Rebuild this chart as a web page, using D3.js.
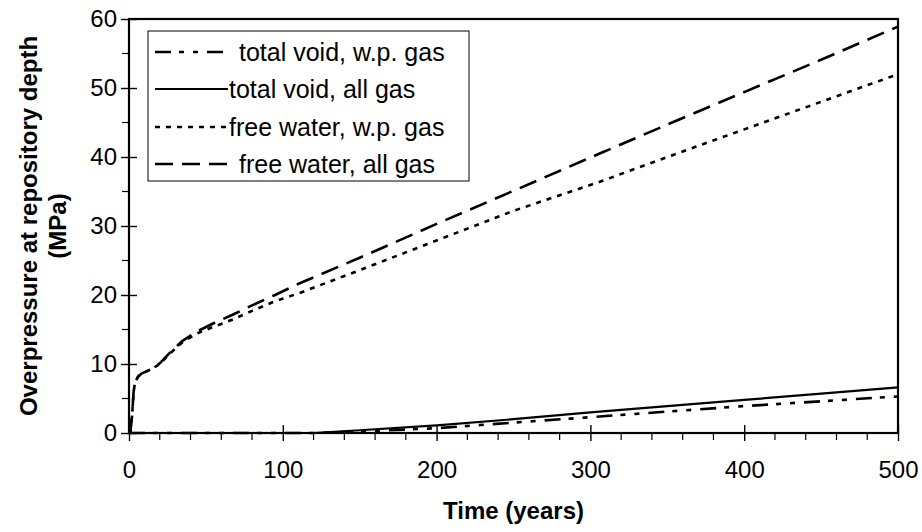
<!DOCTYPE html>
<html>
<head>
<meta charset="utf-8">
<script src="https://cdn.jsdelivr.net/npm/d3@7"></script>
<style>
  html, body { margin: 0; padding: 0; background: #fff; }
  svg { display: block; font-family: "Liberation Sans", Arial, sans-serif; }
</style>
</head>
<body>
<svg id="chart" width="922" height="532"></svg>
<script>
// Time axis (years) for the free-water cases
const fwTime = [0, 1, 2, 3, 4, 6, 8, 11, 15, 20, 26, 35, 45, 55, 67, 80, 95, 111, 150, 200, 250, 306, 350, 400, 450, 500];
// Overpressure (MPa), free water, all gas
const fwAllGas = [0, 0.3, 2.5, 6.0, 7.4, 8.2, 8.6, 8.9, 9.3, 10.1, 11.5, 13.4, 14.8, 15.9, 17.1, 18.5, 20.0, 21.7, 25.4, 30.3, 35.1, 40.5, 44.7, 49.4, 54.1, 58.9];
// Overpressure (MPa), free water, w.p. gas
const fwWpGas = [0, 0.3, 2.5, 6.0, 7.4, 8.2, 8.6, 8.9, 9.3, 10.0, 11.4, 13.2, 14.5, 15.4, 16.4, 17.7, 19.1, 20.3, 23.6, 27.9, 32.2, 36.4, 40.0, 44.0, 48.0, 52.0];

// Time axis (years) for the total-void cases
const tvTime = [0, 120, 150, 200, 250, 300, 350, 400, 450, 500];
// Overpressure (MPa), total void, all gas
const tvAllGas = [0, 0, 0.4, 1.1, 2.0, 3.0, 3.9, 4.8, 5.7, 6.6];
// Overpressure (MPa), total void, w.p. gas
const tvWpGas = [0, 0, 0.2, 0.7, 1.5, 2.3, 3.1, 3.9, 4.6, 5.3];

const xTicks = [0, 100, 200, 300, 400, 500];
const yTicks = [0, 10, 20, 30, 40, 50, 60];
const legendLabels = ["total void, w.p. gas", "total void, all gas", "free water, w.p. gas", "free water, all gas"];

const svg = d3.select("#chart");
const plotLeft = 129, plotRight = 898, plotTop = 19, plotBottom = 433;

const x = d3.scaleLinear().domain([0, 500]).range([plotLeft, plotRight]);
const y = d3.scaleLinear().domain([0, 60]).range([plotBottom, plotTop]);

// line styles: [dasharray, width]
const styles = {
  tvWp: ["16,8,5,9,5,9", 2.6],
  tvAll: [null, 2.2],
  fwWp: ["5,6", 2.6],
  fwAll: ["18,9", 2.6]
};

const line = d3.line().x(d => x(d[0])).y(d => y(d[1]));

function drawSeries(times, values, st) {
  svg.append("path")
    .datum(times.map((t, i) => [t, values[i]]))
    .attr("d", line)
    .attr("fill", "none")
    .attr("stroke", "#000")
    .attr("stroke-width", st[1])
    .attr("stroke-dasharray", st[0])
    .attr("stroke-linejoin", "round");
}

drawSeries(fwTime, fwWpGas, styles.fwWp);
drawSeries(fwTime, fwAllGas, styles.fwAll);
drawSeries(tvTime, tvWpGas, styles.tvWp);
drawSeries(tvTime, tvAllGas, styles.tvAll);

// minor ticks
const minorX = d3.range(0, 501, 20).filter(v => v % 100 !== 0);
const minorY = d3.range(0, 61, 5).filter(v => v % 10 !== 0);

svg.append("g").selectAll("line").data(minorX).join("line")
  .attr("x1", d => x(d)).attr("x2", d => x(d))
  .attr("y1", plotBottom).attr("y2", plotBottom + 7)
  .attr("stroke", "#000").attr("stroke-width", 1.2);

svg.append("g").selectAll("line").data(minorY).join("line")
  .attr("x1", plotLeft - 7).attr("x2", plotLeft)
  .attr("y1", d => y(d)).attr("y2", d => y(d))
  .attr("stroke", "#000").attr("stroke-width", 1.2);

// x axis with crossing major ticks
const xAxis = svg.append("g")
  .attr("transform", `translate(0,${plotBottom})`)
  .call(d3.axisBottom(x).tickValues(xTicks).tickSizeInner(8).tickSizeOuter(0).tickPadding(20));
xAxis.select(".domain").remove();
xAxis.selectAll(".tick line").attr("y1", -8).attr("stroke-width", 1.4);
xAxis.selectAll(".tick text")
  .attr("font-family", "Liberation Sans, Arial, sans-serif")
  .attr("font-size", 24).attr("fill", "#000");

const yAxis = svg.append("g")
  .attr("transform", `translate(${plotLeft},0)`)
  .call(d3.axisLeft(y).tickValues(yTicks).tickSizeInner(8).tickSizeOuter(0).tickPadding(4));
yAxis.select(".domain").remove();
yAxis.selectAll(".tick line").attr("x1", 8).attr("x2", -8).attr("stroke-width", 1.4);
yAxis.selectAll(".tick text")
  .attr("font-family", "Liberation Sans, Arial, sans-serif")
  .attr("font-size", 24).attr("fill", "#000");

// plot frame
svg.append("rect")
  .attr("x", plotLeft).attr("y", plotTop)
  .attr("width", plotRight - plotLeft).attr("height", plotBottom - plotTop)
  .attr("fill", "none").attr("stroke", "#000").attr("stroke-width", 2.2);

// axis titles
svg.append("text")
  .attr("x", (plotLeft + plotRight) / 2).attr("y", 519)
  .attr("text-anchor", "middle")
  .attr("font-size", 24).attr("font-weight", "bold")
  .text("Time (years)");

const yTitle = svg.append("text")
  .attr("transform", `translate(0,${(plotTop + plotBottom) / 2}) rotate(-90)`)
  .attr("text-anchor", "middle")
  .attr("font-size", 24).attr("font-weight", "bold");
yTitle.append("tspan").attr("x", 0).attr("y", 37).text("Overpressure at repository depth");
yTitle.append("tspan").attr("x", 0).attr("y", 66).text("(MPa)");

// legend
const legend = svg.append("g");
legend.append("rect")
  .attr("x", 148).attr("y", 31).attr("width", 321).attr("height", 150)
  .attr("fill", "#fff").attr("stroke", "#000").attr("stroke-width", 1);

const legendStyles = [styles.tvWp, styles.tvAll, styles.fwWp, styles.fwAll];
const rowY = [52, 89, 127, 164];
const textX = [239, 229, 229, 239];
legendLabels.forEach((lab, i) => {
  legend.append("line")
    .attr("x1", 155).attr("x2", 228)
    .attr("y1", rowY[i]).attr("y2", rowY[i])
    .attr("stroke", "#000")
    .attr("stroke-width", legendStyles[i][1])
    .attr("stroke-dasharray", legendStyles[i][0]);
  legend.append("text")
    .attr("x", textX[i]).attr("y", rowY[i] + 9)
    .attr("font-size", 25)
    .text(lab);
});
</script>
</body>
</html>
